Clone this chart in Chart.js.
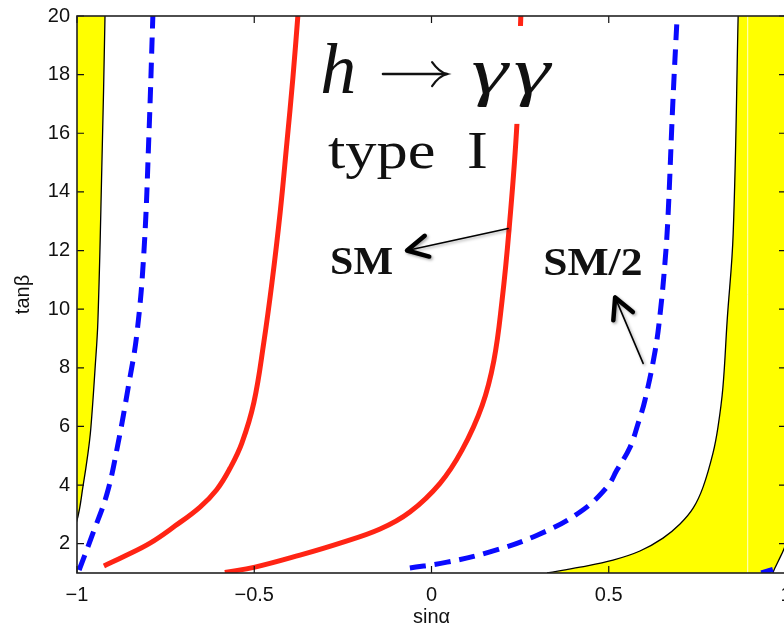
<!DOCTYPE html>
<html>
<head>
<meta charset="utf-8">
<script src="https://cdn.jsdelivr.net/npm/chart.js@4/dist/chart.umd.min.js"></script>
<style>
  body { margin: 0; overflow: hidden; background: #fff; }
  #wrap { width: 784px; height: 629px; overflow: hidden; }
</style>
</head>
<body>
<div id="wrap"><canvas id="plot" width="800" height="629"></canvas></div>
<script>
// axis ticks
const xTicks = [-1, -0.5, 0, 0.5, 1];
const yTicks = [2, 4, 6, 8, 10, 12, 14, 16, 18, 20];

// rate equal to SM (solid red), two branches
const smLeftX = [-0.924, -0.865, -0.794, -0.724, -0.653, -0.606, -0.568, -0.535, -0.501, -0.473, -0.450, -0.427, -0.408, -0.391, -0.377];
const smLeftY = [1.24, 1.58, 2.02, 2.6, 3.25, 3.84, 4.58, 5.43, 6.82, 8.87, 10.91, 13.29, 15.67, 17.89, 20];
const smRightX = [-0.583, -0.498, -0.371, -0.258, -0.145, -0.061, 0.024, 0.086, 0.143, 0.176, 0.199, 0.219, 0.241, 0.252];
const smRightY = [1.02, 1.2, 1.61, 2.02, 2.5, 3.08, 4.06, 5.19, 6.72, 8.25, 10.29, 12.75, 16.32, 20];

// rate equal to SM/2 (dashed blue)
const halfLeftX = [-0.994, -0.955, -0.915, -0.884, -0.856, -0.831, -0.811, -0.797, -0.786];
const halfLeftY = [1.1, 2.36, 3.72, 5.43, 7.3, 9.17, 12.0, 15.98, 20];
const halfRightX = [-0.061, 0.044, 0.165, 0.298, 0.419, 0.495, 0.523, 0.560, 0.583, 0.602, 0.631, 0.645, 0.659, 0.667, 0.681, 0.693];
const halfRightY = [1.17, 1.37, 1.72, 2.29, 3.08, 3.93, 4.51, 5.29, 6.11, 6.89, 8.59, 9.85, 11.65, 13.12, 17.1, 20];
const halfCornerX = [0.93, 0.963];
const halfCornerY = [1.0, 1.12];

// edges of the excluded (yellow) regions
const edgeLeftX = [-1.02, -1.0, -0.983, -0.969, -0.961, -0.949, -0.941, -0.930, -0.921, -0.918];
const edgeLeftY = [2.3, 2.8, 3.96, 5.09, 5.94, 7.98, 9.61, 14.82, 20, 23];
const edgeRightX = [0.326, 0.419, 0.512, 0.588, 0.653, 0.701, 0.738, 0.766, 0.794, 0.808, 0.822, 0.834, 0.851, 0.865, 0.87, 1.2];
const edgeRightY = [1.0, 1.2, 1.44, 1.75, 2.19, 2.67, 3.21, 3.93, 5.09, 5.97, 7.33, 9.61, 12.58, 20, 23, 23];
const edgeCornerX = [0.963, 0.968, 0.978, 0.99, 1.0, 1.03];
const edgeCornerY = [1.0, 1.15, 1.4, 1.7, 1.95, 2.3];
const seamX = [0.892, 0.892];
const seamY = [1, 20];

const xMin = -1, xMax = 1, yMin = 1, yMax = 20;

const RED = 'rgb(255,36,20)';
const BLUE = 'rgb(10,10,255)';
const YELLOW = '#ffff00';

function pts(xs, ys) {
  return xs.map((x, i) => ({ x: x, y: ys[i] }));
}

function curve(data, color, dashed) {
  return {
    data: data,
    showLine: true,
    borderColor: color,
    borderWidth: 5,
    borderDash: dashed ? [16, 9] : [],
    borderCapStyle: 'butt',
    pointRadius: 0,
    tension: 0.4,
    fill: false,
    order: 1
  };
}

// boundary line, filled towards the excluded side
function edge(data, side, colour, order) {
  return {
    data: data,
    showLine: true,
    borderColor: '#000',
    borderWidth: 1.3,
    backgroundColor: colour,
    pointRadius: 0,
    tension: 0.4,
    fill: side,
    order: order
  };
}

// text placed on top of the plot
function drawText(ctx, text, px, py, font, sx) {
  ctx.save();
  ctx.translate(px, py);
  ctx.scale(sx, 1);
  ctx.font = font;
  ctx.textBaseline = 'alphabetic';
  ctx.fillText(text, 0, 0);
  ctx.restore();
}

function drawArrow(ctx, x0, y0, x1, y1) {
  const ang = Math.atan2(y0 - y1, x0 - x1);
  const len = 23, spread = 0.48;
  ctx.save();
  ctx.shadowColor = 'rgba(0,0,0,0.35)';
  ctx.shadowBlur = 3;
  ctx.shadowOffsetX = 1.5;
  ctx.shadowOffsetY = 1.5;
  ctx.strokeStyle = '#000';
  ctx.lineCap = 'round';
  ctx.lineJoin = 'round';
  ctx.lineWidth = 1.6;
  ctx.beginPath();
  ctx.moveTo(x0, y0);
  ctx.lineTo(x1, y1);
  ctx.stroke();
  ctx.lineWidth = 4.5;
  ctx.beginPath();
  ctx.moveTo(x1 + len * Math.cos(ang - spread), y1 + len * Math.sin(ang - spread));
  ctx.lineTo(x1, y1);
  ctx.lineTo(x1 + len * Math.cos(ang + spread), y1 + len * Math.sin(ang + spread));
  ctx.stroke();
  ctx.restore();
}

const overlay = {
  id: 'overlay',
  afterDatasetsDraw(chart) {
    const ctx = chart.ctx;
    const a = chart.chartArea;
    const xs = chart.scales.x, ys = chart.scales.y;
    const X = v => xs.getPixelForValue(v);
    const Y = v => ys.getPixelForValue(v);
    ctx.save();

    // white box behind the process label
    ctx.fillStyle = '#fff';
    ctx.fillRect(X(-0.35), Y(19.66), X(0.42) - X(-0.35), Y(16.32) - Y(19.66));

    ctx.fillStyle = '#111';
    ctx.strokeStyle = '#111';
    drawText(ctx, 'h', X(-0.314), Y(17.38), 'italic 72px "Liberation Serif"', 1.0);
    // right arrow of the decay
    const ax0 = X(-0.137), ax1 = X(0.044), ay = Y(18.02);
    ctx.lineWidth = 2.4;
    ctx.lineCap = 'round';
    ctx.beginPath();
    ctx.moveTo(ax0, ay);
    ctx.lineTo(ax1, ay);
    ctx.stroke();
    ctx.lineWidth = 2.2;
    ctx.beginPath();
    ctx.moveTo(ax1 - 15, ay - 12);
    ctx.quadraticCurveTo(ax1 - 8, ay - 2, ax1, ay);
    ctx.quadraticCurveTo(ax1 - 8, ay + 2, ax1 - 15, ay + 12);
    ctx.stroke();
    drawText(ctx, 'γ', X(0.113), Y(17.38), 'italic 66px "Liberation Serif"', 1.4);
    drawText(ctx, 'γ', X(0.232), Y(17.38), 'italic 66px "Liberation Serif"', 1.4);
    drawText(ctx, 'type', X(-0.292), Y(14.82), '52px "Liberation Serif"', 1.2);
    drawText(ctx, 'I', X(0.100), Y(14.82), '52px "Liberation Serif"', 1.2);

    drawText(ctx, 'SM', X(-0.286), Y(11.2), 'bold 40px "Liberation Serif"', 1.05);
    drawText(ctx, 'SM/2', X(0.315), Y(11.15), 'bold 40px "Liberation Serif"', 1.09);
    drawArrow(ctx, X(0.216), Y(12.75), X(-0.069), Y(12.0));
    drawArrow(ctx, X(0.597), Y(8.15), X(0.518), Y(10.4));

    // inward tick marks on all four sides, then the frame
    ctx.strokeStyle = '#111';
    ctx.lineWidth = 1.2;
    ctx.lineCap = 'butt';
    ctx.beginPath();
    xTicks.forEach(v => {
      const p = X(v);
      ctx.moveTo(p, a.bottom); ctx.lineTo(p, a.bottom - 7);
      ctx.moveTo(p, a.top); ctx.lineTo(p, a.top + 7);
    });
    yTicks.forEach(v => {
      const p = Y(v);
      ctx.moveTo(a.left, p); ctx.lineTo(a.left + 7, p);
      ctx.moveTo(a.right, p); ctx.lineTo(a.right - 7, p);
    });
    ctx.stroke();
    ctx.strokeStyle = '#222';
    ctx.lineWidth = 1.6;
    ctx.strokeRect(a.left, a.top, a.width, a.height);
    ctx.restore();
  }
};

const minus = v => String(v).replace('-', '\u2212');

new Chart(document.getElementById('plot'), {
  type: 'scatter',
  data: {
    datasets: [
      curve(pts(smLeftX, smLeftY), RED, false),
      curve(pts(smRightX, smRightY), RED, false),
      curve(pts(halfLeftX, halfLeftY), BLUE, true),
      curve(pts(halfRightX, halfRightY), BLUE, true),
      curve(pts(halfCornerX, halfCornerY), BLUE, false),
      {
        data: pts(seamX, seamY),
        showLine: true,
        borderColor: 'rgba(255,255,235,0.9)',
        borderWidth: 1,
        pointRadius: 0,
        order: 8
      },
      edge(pts(edgeCornerX, edgeCornerY), 'start', '#fff', 9),
      edge(pts(edgeLeftX, edgeLeftY), 'end', YELLOW, 10),
      edge(pts(edgeRightX, edgeRightY), 'start', YELLOW, 10)
    ]
  },
  options: {
    responsive: false,
    animation: false,
    devicePixelRatio: 1,
    layout: { padding: { top: 16, right: 14, bottom: 0, left: 0 } },
    plugins: {
      legend: { display: false },
      tooltip: { enabled: false }
    },
    scales: {
      x: {
        type: 'linear',
        min: xMin,
        max: xMax,
        grid: { display: false, drawTicks: false },
        border: { display: false },
        afterBuildTicks: s => { s.ticks = xTicks.map(v => ({ value: v })); },
        afterFit: s => { s.height = 56; s.paddingLeft = 0; s.paddingRight = 0; },
        ticks: {
          padding: 10,
          maxRotation: 0,
          autoSkip: false,
          color: '#111',
          font: { family: '"Liberation Sans"', size: 20 },
          callback: v => minus(v)
        },
        title: {
          display: true,
          text: 'sinα',
          color: '#111',
          font: { family: '"Liberation Sans"', size: 20 },
          padding: { top: 0, bottom: 0 }
        }
      },
      y: {
        type: 'linear',
        min: yMin,
        max: yMax,
        grid: { display: false, drawTicks: false },
        border: { display: false },
        afterBuildTicks: s => { s.ticks = yTicks.map(v => ({ value: v })); },
        afterFit: s => { s.width = 77; s.paddingTop = 0; s.paddingBottom = 0; },
        ticks: {
          padding: 7,
          autoSkip: false,
          color: '#111',
          font: { family: '"Liberation Sans"', size: 20 }
        },
        title: {
          display: true,
          text: 'tanβ',
          color: '#111',
          font: { family: '"Liberation Sans"', size: 20 },
          padding: { top: 11, bottom: 0 }
        }
      }
    }
  },
  plugins: [overlay]
});
</script>
</body>
</html>
